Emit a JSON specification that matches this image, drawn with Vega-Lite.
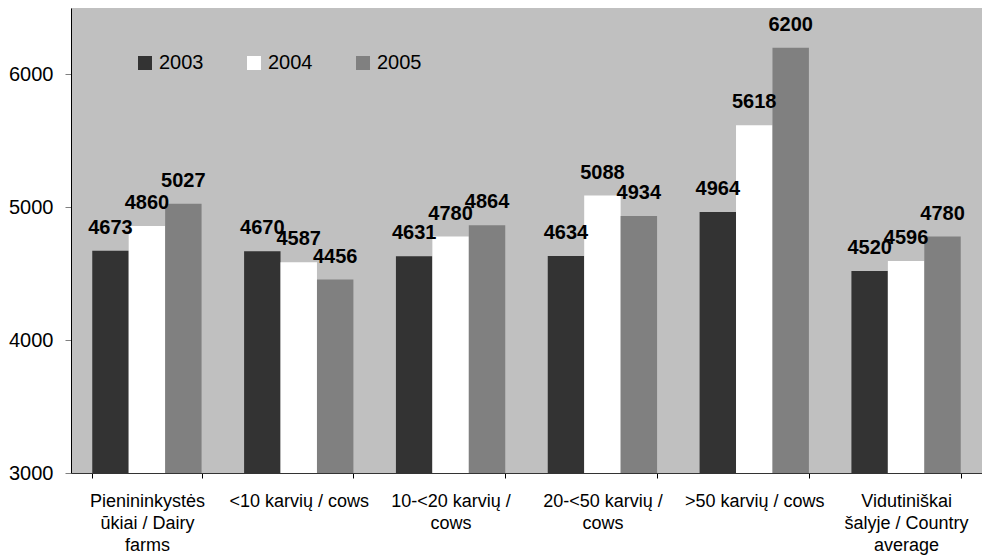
{
  "$schema": "https://vega.github.io/schema/vega-lite/v6.json",
  "width": 911,
  "height": 465,
  "autosize": "none",
  "padding": {"left": 71, "top": 8, "right": 0, "bottom": 86},
  "background": "white",
  "config": {"view": {"fill": "#C0C0C0", "stroke": null}, "font": "Liberation Sans"},
  "data": {"values": [
    {"category": "Pienininkystės ūkiai / Dairy farms", "year": "2003", "value": 4673},
    {"category": "Pienininkystės ūkiai / Dairy farms", "year": "2004", "value": 4860},
    {"category": "Pienininkystės ūkiai / Dairy farms", "year": "2005", "value": 5027},
    {"category": "<10 karvių / cows", "year": "2003", "value": 4670},
    {"category": "<10 karvių / cows", "year": "2004", "value": 4587},
    {"category": "<10 karvių / cows", "year": "2005", "value": 4456},
    {"category": "10-<20 karvių / cows", "year": "2003", "value": 4631},
    {"category": "10-<20 karvių / cows", "year": "2004", "value": 4780},
    {"category": "10-<20 karvių / cows", "year": "2005", "value": 4864},
    {"category": "20-<50 karvių / cows", "year": "2003", "value": 4634},
    {"category": "20-<50 karvių / cows", "year": "2004", "value": 5088},
    {"category": "20-<50 karvių / cows", "year": "2005", "value": 4934},
    {"category": ">50 karvių / cows", "year": "2003", "value": 4964},
    {"category": ">50 karvių / cows", "year": "2004", "value": 5618},
    {"category": ">50 karvių / cows", "year": "2005", "value": 6200},
    {"category": "Vidutiniškai šalyje / Country average", "year": "2003", "value": 4520},
    {"category": "Vidutiniškai šalyje / Country average", "year": "2004", "value": 4596},
    {"category": "Vidutiniškai šalyje / Country average", "year": "2005", "value": 4780}
  ]},
  "encoding": {
    "x": {"field": "category", "type": "nominal", "sort": null, "scale": {"paddingInner": 0.28, "paddingOuter": 0.14},
      "axis": {"orient": "bottom", "ticks": true, "tickBand": "extent", "tickSize": 5, "tickColor": "#000000", "domain": true, "domainColor": "#333333", "labelAngle": 0, "labelFontSize": 18, "labelPadding": 14, "labelLineHeight": 22, "labelColor": "#000000", "title": null, "grid": false,
        "labelExpr": "datum.value == 'Pienininkystės ūkiai / Dairy farms' ? ['Pienininkystės', 'ūkiai / Dairy', 'farms'] : datum.value == '10-<20 karvių / cows' ? ['10-<20 karvių /', 'cows'] : datum.value == '20-<50 karvių / cows' ? ['20-<50 karvių /', 'cows'] : datum.value == 'Vidutiniškai šalyje / Country average' ? ['Vidutiniškai', 'šalyje / Country', 'average'] : datum.label"}},
    "xOffset": {"field": "year", "type": "nominal", "scale": {"paddingInner": 0, "paddingOuter": 0}},
    "y": {"field": "value", "type": "quantitative", "scale": {"domain": [3000, 6500], "nice": false, "zero": false},
      "axis": {"values": [3000, 4000, 5000, 6000], "format": "d", "grid": false, "domainColor": "#000000", "tickColor": "#808080", "tickSize": 6, "labelFontSize": 20, "labelColor": "#000000", "labelPadding": 12, "title": null}}
  },
  "layer": [
    {
      "mark": {"type": "bar", "clip": true},
      "encoding": {
        "color": {"field": "year", "type": "nominal",
          "scale": {"range": ["#333333", "#FFFFFF", "#808080"]},
          "legend": {"orient": "none", "legendX": 64, "legendY": 45, "direction": "horizontal", "title": null, "symbolType": "square", "symbolSize": 196, "symbolStrokeWidth": 0, "symbolOpacity": 1, "labelFontSize": 20, "labelOffset": 4, "columnPadding": 40, "labelColor": "#000000", "padding": 0}}
      }
    },
    {
      "mark": {"type": "text", "fontWeight": "bold", "fontSize": 20, "baseline": "alphabetic", "dy": -17, "color": "#000000"},
      "encoding": {
        "text": {"field": "value", "type": "quantitative"}
      }
    }
  ]
}
